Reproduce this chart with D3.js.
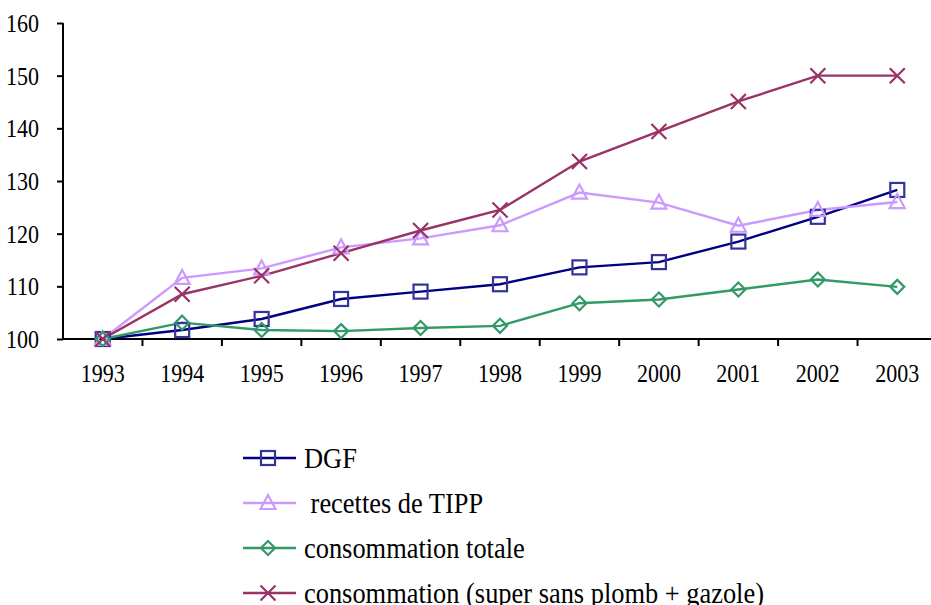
<!DOCTYPE html>
<html>
<head>
<meta charset="utf-8">
<script src="https://cdn.jsdelivr.net/npm/d3@7"></script>
<style>
  body { margin: 0; background: #fff; }
</style>
</head>
<body>
<div id="vis"></div>
<script>
var years = ['1993', '1994', '1995', '1996', '1997', '1998', '1999', '2000', '2001', '2002', '2003'];
var dgf = [100, 101.7, 103.8, 107.6, 109.0, 110.4, 113.6, 114.6, 118.5, 123.2, 128.3];
var tipp = [100, 111.6, 113.4, 117.4, 119.1, 121.6, 127.8, 125.9, 121.5, 124.5, 126.0];
var consoTotale = [100, 103.1, 101.7, 101.5, 102.1, 102.5, 106.8, 107.5, 109.4, 111.3, 109.9];
var consoSuper = [100, 108.5, 112.0, 116.3, 120.6, 124.5, 133.7, 139.4, 145.1, 150.0, 150.0];
var yTicks = [100, 110, 120, 130, 140, 150, 160];

var series = [
    { name: 'DGF', values: dgf, line: '#000080', mark: '#333399', shape: 'square' },
    { name: '\u00a0recettes de TIPP', values: tipp, line: '#cc99ff', mark: '#cc99ff', shape: 'triangle' },
    { name: 'consommation totale', values: consoTotale, line: '#339966', mark: '#339966', shape: 'diamond' },
    { name: 'consommation (super sans plomb + gazole)', values: consoSuper, line: '#993366', mark: '#993366', shape: 'cross' }
];

var width = 931;
var height = 605;
var serif = "'Liberation Serif', 'Times New Roman', serif";
// the original picture is a bit narrower than it is tall, so text is squeezed sideways
var squeeze = 0.88;

var svg = d3.select('#vis')
    .append('svg')
    .attr('width', width)
    .attr('height', height);

var x = d3.scaleBand()
    .domain(years)
    .range([63, 937]);

var y = d3.scaleLinear()
    .domain([100, 160])
    .range([339, 23]);

// draws one marker centred on 0,0
function marker(g, s) {
    if (s.shape === 'square') {
        g.append('rect').attr('x', -7).attr('y', -7).attr('width', 14).attr('height', 14)
            .attr('fill', 'none').attr('stroke', s.mark).attr('stroke-width', 2.2);
    } else if (s.shape === 'triangle') {
        g.append('path').attr('d', 'M0,-8L7.5,6L-7.5,6Z')
            .attr('fill', 'none').attr('stroke', s.mark).attr('stroke-width', 2.2);
    } else if (s.shape === 'diamond') {
        g.append('path').attr('d', 'M0,-7L7,0L0,7L-7,0Z')
            .attr('fill', 'none').attr('stroke', s.mark).attr('stroke-width', 2.2);
    } else {
        g.append('path').attr('d', 'M-7.5,-7.5L7.5,7.5M-7.5,7.5L7.5,-7.5')
            .attr('fill', 'none').attr('stroke', s.mark).attr('stroke-width', 2.2);
    }
}

function squeezeText(sel, k) {
    sel.each(function () {
        var w = this.getComputedTextLength();
        d3.select(this)
            .attr('textLength', w * (k || squeeze))
            .attr('lengthAdjust', 'spacingAndGlyphs');
    });
}

// y axis
var yAxis = svg.append('g')
    .attr('transform', 'translate(63,0)')
    .call(d3.axisLeft(y).tickValues(yTicks).tickSize(6).tickPadding(18));
yAxis.attr('font-family', null).attr('font-size', null);
yAxis.select('.domain').attr('stroke', '#000').attr('stroke-width', 2).attr('d', 'M0,' + y(160) + 'V' + y(100));
yAxis.selectAll('.tick line').attr('stroke', '#000').attr('stroke-width', 2);
yAxis.selectAll('.tick text')
    .style('font-size', '25px')
    .style('font-family', serif)
    .attr('fill', '#000')
    .attr('dy', '0.34em')
    .call(squeezeText);

// x axis
var xAxis = svg.append('g')
    .attr('transform', 'translate(0,' + y(100) + ')')
    .call(d3.axisBottom(x).tickSize(0).tickPadding(0));
xAxis.attr('font-family', null).attr('font-size', null);
xAxis.select('.domain').attr('stroke', '#000').attr('stroke-width', 2).attr('d', 'M63,0H937');
xAxis.selectAll('.tick text')
    .style('font-size', '25px')
    .style('font-family', serif)
    .attr('fill', '#000')
    .attr('y', 43)
    .attr('dy', 0)
    .call(squeezeText);
xAxis.selectAll('.sep')
    .data(years)
    .enter()
    .append('line')
    .attr('x1', (d) => x(d) + x.bandwidth())
    .attr('x2', (d) => x(d) + x.bandwidth())
    .attr('y1', 0)
    .attr('y2', 7)
    .attr('stroke', '#000')
    .attr('stroke-width', 2);

var line = d3.line()
    .x((d, i) => x(years[i]) + x.bandwidth() / 2)
    .y((d) => y(d));

series.forEach(function (s) {
    svg.append('path')
        .attr('d', line(s.values))
        .attr('fill', 'none')
        .attr('stroke', s.line)
        .attr('stroke-width', 2.4);
});

series.forEach(function (s) {
    s.values.forEach(function (v, i) {
        var g = svg.append('g')
            .attr('transform', 'translate(' + (x(years[i]) + x.bandwidth() / 2) + ',' + y(v) + ')');
        marker(g, s);
    });
});

// legend
var legend = svg.append('g');
series.forEach(function (s, i) {
    var ly = 458 + i * 45;
    var g = legend.append('g').attr('transform', 'translate(0,' + ly + ')');
    g.append('line')
        .attr('x1', 243).attr('x2', 296)
        .attr('y1', 0).attr('y2', 0)
        .attr('stroke', s.line).attr('stroke-width', 2.4);
    marker(g.append('g').attr('transform', 'translate(268,0)'), s);
    g.append('text')
        .attr('x', 304)
        .attr('y', 10)
        .style('font-size', '29.5px')
        .style('font-family', serif)
        .attr('fill', '#000')
        .text(s.name)
        .call(squeezeText, 0.895);
});
</script>
</body>
</html>
